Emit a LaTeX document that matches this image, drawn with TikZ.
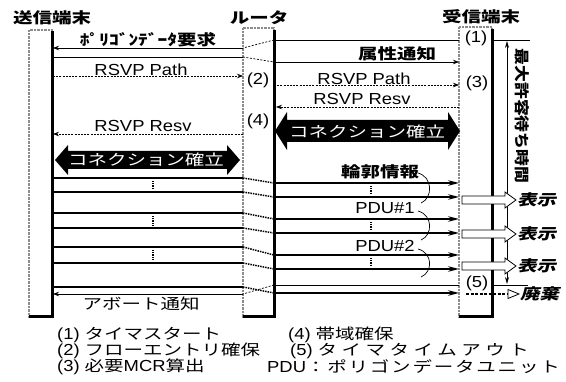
\documentclass[tikz,border=0pt]{standalone}
\usepackage{fontspec}
\usetikzlibrary{arrows.meta}
\newfontfamily\jp{Noto Sans CJK JP}[FakeStretch=1.3]
\newfontfamily\jpw{Noto Sans CJK JP}[FakeStretch=1.3,LetterSpace=30]
\newfontfamily\jpx{Noto Sans CJK JP}[FakeStretch=1.3,LetterSpace=12]
\newfontfamily\jpsl{Noto Sans CJK JP}[FakeStretch=1.3,FakeSlant=0.25]
\newfontfamily\jpv{Noto Sans CJK JP}[FakeStretch=1.12]
\newfontfamily\lat{Liberation Sans}[FakeStretch=1.15]
\newcommand{\mylat}[1]{{\lat\fontsize{16}{19}\selectfont #1}}
\begin{document}
\begin{tikzpicture}[x=1pt,y=-1pt,
 jt/.style={inner sep=0pt,font=\jp\fontsize{15}{18}\selectfont},
 jb/.style={inner sep=0pt,font=\jp\bfseries\fontsize{15}{18}\selectfont},
 jsl/.style={inner sep=0pt,anchor=west,font=\jpsl\bfseries\fontsize{15}{18}\selectfont},
 lt/.style={inner sep=0pt,font=\lat\fontsize{16}{19}\selectfont},
 colb/.style={draw=black!45,line width=2pt,dash pattern=on 0.7pt off 0.7pt},
 blk/.style={line width=3pt},
 thinl/.style={line width=0.7pt},
 dashl/.style={line width=0.7pt,dash pattern=on 2pt off 1.2pt},
 rdash/.style={line width=0.7pt,dash pattern=on 2pt off 1.5pt},
 sarr/.style={-{Stealth[length=6pt,width=4.5pt]}},
 dat/.style={line width=1.4pt},
 datlink/.style={line width=1.5pt,dash pattern=on 1.5pt off 1pt},
 darr/.style={-{Stealth[length=11pt,width=5.5pt]}},
 cont/.style={line width=1.6pt,dash pattern=on 1.2pt off 1pt},
 hol/.style={draw,fill=white,line width=0.8pt},
 brc/.style={line width=0.7pt},
]
\useasboundingbox (0,0) rectangle (566,382);

% headers
\node[jb] (hs) at (52,18) {送信端末};
\node[jb] (hr) at (259,18) {ルータ};
\node[jb] (hd) at (481,17) {受信端末};

% columns
\draw[colb] (29,30) rectangle (52,317);
\draw[colb] (243,28) rectangle (274,317);
\draw[colb] (459,27) rectangle (492,317);

% polygon data request
\coordinate (q0) at (459,40);
\coordinate (q1) at (274,40);
\coordinate (q2) at (243,48);
\coordinate (q3) at (53,48);
\draw[thinl] (q0) -- (q1);
\draw[rdash] (q1) -- (q2);
\draw[thinl,sarr] (q2) -- (q3);
\node[jb] (tq) at (148,40) {ﾎﾟﾘｺﾞﾝﾃﾞｰﾀ要求};

% attribute notice
\coordinate (a0) at (53,57);
\coordinate (a1) at (243,57);
\coordinate (a2) at (274,62);
\coordinate (a3) at (459,62);
\draw[thinl] (a0) -- (a1);
\draw[rdash] (a1) -- (a2);
\draw[thinl,sarr] (a2) -- (a3);
\node[jb] (ta) at (397,54) {属性通知};

% RSVP Path
\coordinate (p0) at (53,76);
\coordinate (p1) at (243,76);
\coordinate (p2) at (274,85);
\coordinate (p3) at (459,85);
\draw[dashl,sarr] (p0) -- (p1);
\draw[dashl,sarr] (p2) -- (p3);
\node[lt] (tp1) at (141,70) {RSVP Path};
\node[lt] (tp2) at (364,79) {RSVP Path};

% RSVP Resv
\coordinate (r0) at (459,107);
\coordinate (r1) at (276,107);
\coordinate (r2) at (243,134);
\coordinate (r3) at (53,134);
\draw[dashl,sarr] (r0) -- (r1);
\draw[dashl,sarr] (r2) -- (r3);
\node[lt] (tr1) at (362,99) {RSVP Resv};
\node[lt] (tr2) at (143,126) {RSVP Resv};

% step labels
\node[lt] (n1) at (476,38) {(1)};
\node[lt] (n2) at (258,80) {(2)};
\node[lt] (n3) at (477,83) {(3)};
\node[lt] (n4) at (258,121) {(4)};
\node[lt] (n5) at (477,283) {(5)};

% connection established arrows
\fill (55,160) -- (68,145) -- (68,151) -- (227,151) -- (227,145) -- (240,160)
      -- (227,175) -- (227,169) -- (68,169) -- (68,175) -- cycle;
\node[jt,text=white] (c1) at (146,160) {コネクション確立};
\fill (275,131) -- (287,112) -- (287,120) -- (448,120) -- (448,112) -- (460,131)
      -- (448,150) -- (448,142) -- (287,142) -- (287,150) -- cycle;
\node[jt,text=white] (c2) at (367,132) {コネクション確立};

% data lines
\foreach \i/\a/\b in {1/178/183,2/192/197,3/213/219,4/228/233,5/247/255,6/263/269,7/287/293}{
  \coordinate (ds\i) at (53,\a);
  \coordinate (dl\i) at (243,\a);
  \coordinate (dr\i) at (274,\b);
  \coordinate (de\i) at (459,\b);
  \draw[dat] (ds\i) -- (dl\i);
  \draw[datlink] (dl\i) -- (dr\i);
  \draw[dat,darr] (dr\i) -- (de\i);
}
\foreach \x/\a/\b in {153/181/189,153/216/225,153/250/260,371/186/194,371/222/230,371/258/266}
  \draw[cont] (\x,\a) -- (\x,\b);

\node[jb] (tc) at (380,172) {輪郭情報};
\node[lt] (tu1) at (385,208) {PDU\#1};
\node[lt] (tu2) at (385,246) {PDU\#2};
\draw[brc] (418,173) .. controls (433,177) and (433,198) .. (421,203);
\draw[brc] (418,211) .. controls (433,215) and (433,235) .. (421,240);
\draw[brc] (418,249) .. controls (433,253) and (433,272) .. (421,277);

% abort notice
\coordinate (b0) at (459,285);
\coordinate (b1) at (274,285);
\coordinate (b2) at (243,294);
\coordinate (b3) at (53,294);
\draw[thinl] (b0) -- (b1);
\draw[rdash] (b1) -- (b2);
\draw[thinl,sarr] (b2) -- (b3);
\node[jt] (tb) at (141,304) {アボート通知};

% black bars
\draw[blk] (52,31) -- (52,317) -- (29,317);
\draw[blk] (274,30) -- (274,317) -- (243,317);
\draw[blk] (492,29) -- (492,317) -- (459,317);

% max wait time
\coordinate (t0) at (492,40);
\coordinate (t1) at (530,40);
\coordinate (t2) at (492,285);
\coordinate (t3) at (528,285);
\draw[thinl] (t0) -- (t1);
\draw[thinl] (t2) -- (t3);
\coordinate (w0) at (507,41);
\coordinate (w1) at (507,284);
\draw[thinl,{Stealth[length=7pt,width=4pt]}-{Stealth[length=7pt,width=4pt]}] (w0) -- (w1);
\node[rotate=-90,inner sep=0pt,font=\jpv\bfseries\fontsize{15}{18}\selectfont] (mw) at (522,116) {最大許容待ち時間};

% display arrows
\foreach \y [count=\k] in {200,234,266}{
  \draw[hol] (462,\y-4) -- (505,\y-4) -- (505,\y-8) -- (516,\y) -- (505,\y+8) -- (505,\y+4) -- (462,\y+4) -- cycle;
  \node[jsl] (disp\k) at (517,\y) {表示};
}
% discard
\coordinate (x0) at (466,294);
\coordinate (x1) at (508,294);
\draw[line width=2pt,dash pattern=on 3pt off 1.5pt] (x0) -- (x1);
\draw[hol] (508,289.5) -- (519,294) -- (508,298.5) -- cycle;
\node[jsl] (disc) at (520,294) {廃棄};

% legend
\node[jt,anchor=west] (lg1) at (57,335) {\mylat{(1)}\hspace{5pt}タイマスタート};
\node[jt,anchor=west] (lg2) at (57,351) {\mylat{(2)}\hspace{5pt}フローエントリ確保};
\node[jt,anchor=west] (lg3) at (57,367) {\mylat{(3)}\hspace{5pt}必要\mylat{MCR}算出};
\node[jt,anchor=west] (lg4) at (288,335) {\mylat{(4)}\hspace{5pt}帯域確保};
\node[inner sep=0pt,anchor=west,font=\jpw\fontsize{15}{18}\selectfont] (lg5) at (290,351) {\mylat{(5)}\hspace{5pt}タイマタイムアウト};
\node[inner sep=0pt,anchor=west,font=\jpx\fontsize{15}{18}\selectfont] (lg6) at (267,367) {\mylat{PDU}：ポリゴンデータユニット};
\end{tikzpicture}
\end{document}
